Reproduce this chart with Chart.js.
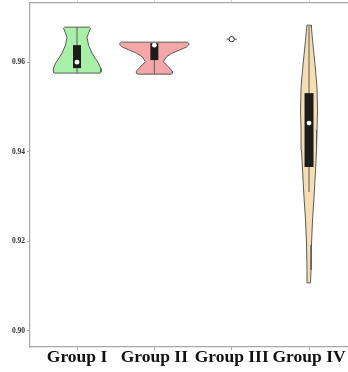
<!DOCTYPE html>
<html>
<head>
<meta charset="utf-8">
<script src="https://cdn.jsdelivr.net/npm/chart.js@4/dist/chart.umd.min.js"></script>
<style>
  html, body { margin: 0; padding: 0; background: #fff; }
  #wrap { width: 348px; height: 372px; position: relative; }
</style>
</head>
<body>
<div id="wrap"><canvas id="myChart"></canvas></div>
<script>
const groups = ['Group I', 'Group II', 'Group III', 'Group IV'];
const yTicks = [0.90, 0.92, 0.94, 0.96];

// violin outlines: value along y, half width in category units
const g1Values = [0.96781, 0.96760, 0.96669, 0.96558, 0.96379, 0.96201, 0.96089, 0.95978, 0.95866, 0.95777, 0.95755];
const g1Widths = [0.162, 0.175, 0.155, 0.129, 0.149, 0.194, 0.233, 0.278, 0.304, 0.310, 0.297];
const g2Values = [0.96446, 0.96402, 0.96335, 0.96268, 0.96201, 0.96118, 0.96007, 0.95895, 0.95799, 0.95755, 0.95732];
const g2Widths = [0.427, 0.453, 0.414, 0.323, 0.233, 0.155, 0.116, 0.181, 0.233, 0.233, 0.220];
const g4Values = [0.96825, 0.96758, 0.96491, 0.96156, 0.95822, 0.95442, 0.94929, 0.94483, 0.94037, 0.93591, 0.92989, 0.92476, 0.91918, 0.91361, 0.91071];
const g4Widths = [0.026, 0.032, 0.045, 0.065, 0.084, 0.103, 0.110, 0.103, 0.097, 0.084, 0.065, 0.045, 0.032, 0.026, 0.019];

// box summaries per group
const boxLow = [0.95866, 0.96045, 0.96513, 0.93658];
const boxHigh = [0.96379, 0.96424, 0.96513, 0.95308];
const medians = [0.96000, 0.96379, 0.96513, 0.94639];
const lineLow = [0.95755, 0.95732, 0.96513, 0.93100];
const lineHigh = [0.96781, 0.96446, 0.96513, 0.96800];

const fills = ['#a8f0a8', '#f5a6a6', '#ffffff', '#f5deb3'];

function violinPoints(x, values, widths) {
    const pts = [];
    for (let i = 0; i < values.length; i++) pts.push({ x: x + widths[i], y: values[i] });
    for (let i = values.length - 1; i >= 0; i--) pts.push({ x: x - widths[i], y: values[i] });
    pts.push(pts[0]);
    return pts;
}

const violins = [[g1Values, g1Widths], [g2Values, g2Widths], null, [g4Values, g4Widths]];
const datasets = [];

violins.forEach((v, i) => {
    if (!v) return;
    datasets.push({
        data: violinPoints(i + 1, v[0], v[1]),
        borderColor: '#5a5a5a',
        backgroundColor: fills[i],
        borderWidth: 1,
        fill: 'shape',
        pointRadius: 0,
        order: 5
    });
});

groups.forEach((g, i) => {
    const x = i + 1;
    if (lineLow[i] === lineHigh[i]) {
        // single value: short tick through the point
        datasets.push({
            data: [{ x: x - 0.065, y: medians[i] }, { x: x + 0.065, y: medians[i] }],
            borderColor: '#444', borderWidth: 1, pointRadius: 0, order: 3
        });
        datasets.push({
            data: [{ x: x, y: medians[i] }],
            showLine: false, pointRadius: 2.6, pointBackgroundColor: '#fff',
            pointBorderColor: '#333', pointBorderWidth: 1, order: 1
        });
        return;
    }
    datasets.push({
        data: [{ x: x, y: lineLow[i] }, { x: x, y: lineHigh[i] }],
        borderColor: '#5a5a5a', borderWidth: 1, pointRadius: 0, order: 4
    });
    datasets.push({
        data: [{ x: x, y: boxLow[i] }, { x: x, y: boxHigh[i] }],
        borderColor: '#1c1c1a', borderWidth: i === 3 ? 9 : 8, borderCapStyle: 'butt',
        pointRadius: 0, order: 2
    });
    datasets.push({
        data: [{ x: x, y: medians[i] }],
        showLine: false, pointRadius: 2.4, pointBackgroundColor: '#fff',
        pointBorderWidth: 0, order: 1
    });
});

const catTicks = (scale) => { scale.ticks = groups.map((g, i) => ({ value: i + 1 })); };
const noPad = (s) => { s.paddingLeft = 0; s.paddingRight = 0; s.paddingTop = 0; s.paddingBottom = 0; };

new Chart(document.getElementById('myChart').getContext('2d'), {
    type: 'line',
    data: { datasets },
    options: {
        responsive: true,
        maintainAspectRatio: false,
        animation: false,
        layout: { padding: 0, autoPadding: false },
        plugins: { legend: { display: false }, tooltip: { enabled: false } },
        scales: {
            x: {
                type: 'linear',
                position: 'bottom',
                min: 0.392,
                max: 4.504,
                afterBuildTicks: catTicks,
                afterFit: (s) => { s.height = 25; noPad(s); },
                grid: { drawOnChartArea: false, tickLength: 3, color: '#a8a8a8' },
                border: { color: '#a8a8a8', width: 1.2 },
                ticks: {
                    padding: -3,
                    maxRotation: 0,
                    autoSkip: false,
                    color: '#111',
                    font: { family: 'Liberation Serif', weight: 'bold', size: 17.5 },
                    callback: (v) => groups[v - 1]
                }
            },
            x2: {
                type: 'linear',
                position: 'top',
                min: 0.392,
                max: 4.504,
                afterBuildTicks: catTicks,
                afterFit: (s) => { s.height = 3; noPad(s); },
                grid: { drawOnChartArea: false, tickLength: 3, color: '#d0d0d0' },
                border: { color: '#a8a8a8', width: 1.2 },
                ticks: { display: false }
            },
            y: {
                min: 0.8964,
                max: 0.9732,
                afterBuildTicks: (s) => { s.ticks = yTicks.map(v => ({ value: v })); },
                afterFit: (s) => { s.width = 30; noPad(s); },
                grid: { drawOnChartArea: false, tickLength: 3, color: '#a8a8a8' },
                border: { color: '#a8a8a8', width: 1.2 },
                ticks: {
                    padding: 2,
                    color: '#333',
                    font: { family: 'Liberation Serif', weight: 'bold', size: 7.5 },
                    callback: (v) => v.toFixed(2)
                }
            }
        }
    }
});
</script>
</body>
</html>
